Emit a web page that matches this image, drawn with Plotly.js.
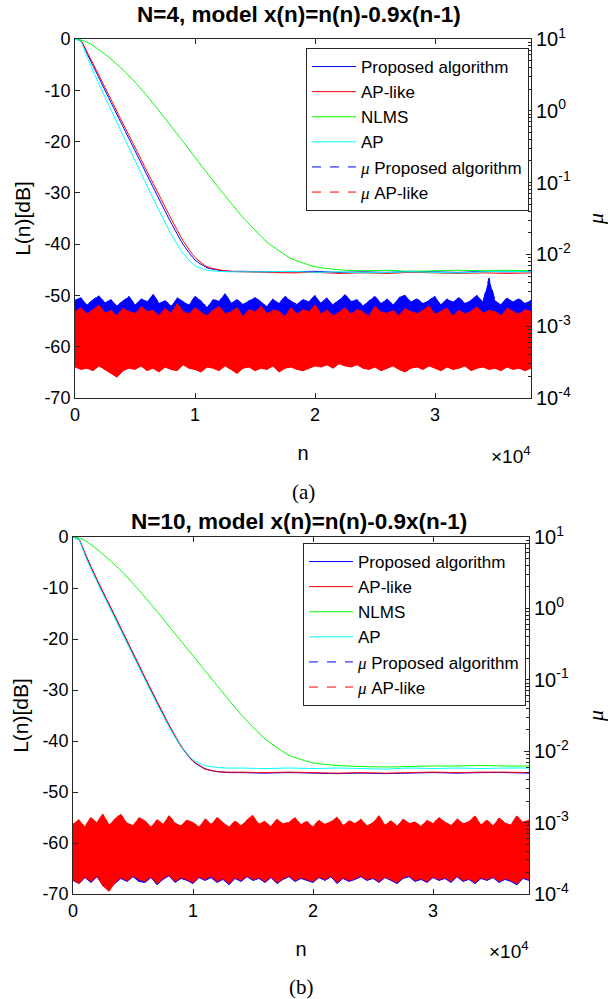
<!DOCTYPE html>
<html><head><meta charset="utf-8">
<script src="https://cdn.plot.ly/plotly-3.0.1.min.js"></script>
<style>html,body{margin:0;padding:0;background:#fff}</style>
</head><body><div id="chart" style="width:608px;height:999px"></div>
<script>
// ---------- data ----------
const titleA = 'N=4, model x(n)=n(n)-0.9x(n-1)';
const titleB = 'N=10, model x(n)=n(n)-0.9x(n-1)';
const seriesNames = ['Proposed algorithm', 'AP-like', 'NLMS', 'AP'];
const muNames = ['Proposed algorithm', 'AP-like'];
const xTickVals = [0, 10000, 20000, 30000];
const xTickText = ['0', '1', '2', '3'];
const yTickVals = [-70, -60, -50, -40, -30, -20, -10, 0];
const yTickText = ['-70', '-60', '-50', '-40', '-30', '-20', '-10', '0'];
const muTickVals = [1e-4, 1e-3, 1e-2, 1e-1, 1, 10];
const muTickText = ['10<sup>-4</sup>', '10<sup>-3</sup>', '10<sup>-2</sup>', '10<sup>-1</sup>', '10<sup>0</sup>', '10<sup>1</sup>'];

// sample index n for the learning curves
const Ln = [0,500,1000,1500,2000,3000,4000,5000,6000,7000,8000,9000,10000,11000,12000,13000,14000,16000,18000,20000,22000,24000,26000,28000,30000,32000,34000,36000,38000];

// (a) N=4 learning curves L(n) [dB]
const a_prop = [0,-0.4,-2.8,-5.2,-7.6,-12.4,-17.1,-21.8,-26.5,-31.2,-35.8,-40.0,-43.1,-44.6,-45.1,-45.3,-45.3,-45.4,-45.4,-45.3,-45.5,-45.4,-45.5,-45.3,-45.4,-45.5,-45.3,-45.4,-45.3];
const a_aplike = [0,-0.3,-2.5,-4.8,-7.1,-11.8,-16.5,-21.1,-25.8,-30.4,-35.0,-39.3,-42.6,-44.4,-45.0,-45.3,-45.4,-45.5,-45.6,-45.5,-45.7,-45.6,-45.7,-45.5,-45.6,-45.7,-45.6,-45.7,-45.6];
const a_nlms = [0,-0.2,-0.6,-1.3,-2.1,-3.9,-6.0,-8.4,-11.1,-14.0,-17.0,-20.0,-23.1,-26.1,-29.1,-32.0,-34.8,-39.6,-42.8,-44.4,-45.0,-45.2,-45.1,-45.3,-45.2,-45.1,-45.2,-45.1,-45.2];
const a_ap = [0,-0.5,-3.5,-6.2,-8.8,-13.8,-18.8,-23.7,-28.6,-33.4,-38.0,-41.8,-44.2,-45.1,-45.3,-45.4,-45.4,-45.4,-45.3,-45.5,-45.4,-45.6,-45.5,-45.4,-45.5,-45.6,-45.4,-45.3,-45.4];

// (b) N=10 learning curves L(n) [dB]
const b_prop = [0,-0.5,-3.3,-6.0,-8.5,-13.3,-18.1,-22.9,-27.7,-32.4,-37.0,-41.1,-44.0,-45.5,-46.0,-46.2,-46.2,-46.3,-46.2,-46.3,-46.4,-46.3,-46.4,-46.3,-46.2,-46.3,-46.2,-46.2,-46.3];
const b_aplike = [0,-0.5,-3.1,-5.8,-8.3,-13.1,-17.9,-22.7,-27.5,-32.2,-36.8,-40.9,-43.9,-45.4,-46.0,-46.1,-46.1,-46.2,-46.1,-46.2,-46.3,-46.2,-46.3,-46.2,-46.1,-46.2,-46.1,-46.1,-46.2];
const b_nlms = [0,-0.2,-0.7,-1.5,-2.4,-4.4,-6.6,-9.1,-11.8,-14.6,-17.5,-20.4,-23.3,-26.2,-29.1,-32.0,-34.8,-39.6,-42.8,-44.3,-44.8,-45.0,-45.1,-45.0,-44.9,-44.9,-44.8,-44.9,-44.9];
const b_ap = [0,-0.6,-3.6,-6.3,-8.8,-13.6,-18.4,-23.2,-28.0,-32.7,-37.2,-41.1,-43.7,-44.8,-45.2,-45.3,-45.3,-45.4,-45.3,-45.4,-45.3,-45.4,-45.5,-45.3,-45.4,-45.3,-45.4,-45.3,-45.3];

// sample index n for the step-size (mu) envelopes
const muN = [0,500,1000,1500,2000,2500,3000,3500,4000,4500,5000,5500,6000,6500,7000,7500,8000,8500,9000,9500,10000,10500,11000,11500,12000,12500,13000,13500,14000,14500,15000,15500,16000,16500,17000,17500,18000,18500,19000,19500,20000,20500,21000,21500,22000,22500,23000,23500,24000,24500,25000,25500,26000,26500,27000,27500,28000,28500,29000,29500,30000,30500,31000,31500,32000,32500,33000,33500,34000,34500,35000,35500,36000,36500,37000,37500,38000];

// (a) mu of proposed algorithm: upper / lower envelope of the noisy trace
const a_muP_hi = [0.0023,0.0025,0.0020,0.0023,0.0027,0.0021,0.0024,0.0019,0.0023,0.0026,
 0.0020,0.0024,0.0022,0.0028,0.0021,0.0023,0.0019,0.0025,0.0022,0.0020,
 0.0026,0.0023,0.0018,0.0024,0.0022,0.0029,0.0021,0.0024,0.0020,0.0023,
 0.0025,0.0022,0.0019,0.0024,0.0021,0.0026,0.0023,0.0020,0.0024,0.0022,
 0.0027,0.0021,0.0025,0.0020,0.0023,0.0028,0.0022,0.0024,0.0019,0.0023,
 0.0026,0.0021,0.0024,0.0020,0.0025,0.0027,0.0022,0.0024,0.0021,0.0023,
 0.0026,0.0020,0.0024,0.0022,0.0025,0.0021,0.0023,0.0027,0.0022,0.0047,
 0.0023,0.0020,0.0025,0.0022,0.0024,0.0021,0.0023];
const a_muP_lo = [0.00046,0.00043,0.00048,0.00044,0.00041,0.00047,0.00045,0.00042,0.00046,0.00044,
 0.00047,0.00043,0.00045,0.00041,0.00046,0.00044,0.00048,0.00042,0.00045,0.00047,
 0.00043,0.00046,0.00044,0.00041,0.00047,0.00045,0.00043,0.00046,0.00044,0.00042,
 0.00045,0.00047,0.00043,0.00046,0.00044,0.00041,0.00045,0.00048,0.00043,0.00046,
 0.00044,0.00042,0.00047,0.00045,0.00043,0.00046,0.00044,0.00041,0.00045,0.00047,
 0.00043,0.00046,0.00044,0.00042,0.00045,0.00047,0.00043,0.00046,0.00044,0.00041,
 0.00045,0.00047,0.00043,0.00046,0.00044,0.00042,0.00045,0.00047,0.00043,0.00046,
 0.00044,0.00042,0.00045,0.00047,0.00043,0.00046,0.00044];
// (a) mu of AP-like
const a_muA_hi = [0.0016,0.0018,0.0015,0.0017,0.0020,0.0015,0.0017,0.0014,0.0018,0.0016,
 0.0015,0.0019,0.0016,0.0017,0.0014,0.0018,0.0015,0.0021,0.0016,0.0015,
 0.0018,0.0016,0.0014,0.0017,0.0019,0.0015,0.0016,0.0018,0.0014,0.0017,
 0.0016,0.0019,0.0015,0.0017,0.0016,0.0014,0.0018,0.0015,0.0017,0.0016,
 0.0020,0.0015,0.0017,0.0014,0.0016,0.0018,0.0015,0.0017,0.0016,0.0014,
 0.0019,0.0016,0.0015,0.0017,0.0014,0.0018,0.0016,0.0015,0.0017,0.0019,
 0.0015,0.0016,0.0018,0.0014,0.0017,0.0015,0.0016,0.0019,0.0015,0.0017,
 0.0016,0.0014,0.0018,0.0016,0.0015,0.0017,0.0016];
const a_muA_lo = [0.00027,0.00025,0.00026,0.00024,0.00028,0.00025,0.00022,0.000195,0.00024,0.00026,
 0.00025,0.00028,0.00024,0.00026,0.00023,0.00027,0.00025,0.00024,0.00029,0.00026,
 0.00025,0.00023,0.00027,0.00026,0.00024,0.00028,0.00025,0.00022,0.00026,0.00027,
 0.00024,0.00026,0.00025,0.00028,0.00023,0.00026,0.00027,0.00025,0.00024,0.00026,
 0.00028,0.00027,0.00029,0.00026,0.00030,0.00028,0.00027,0.00029,0.00026,0.00025,
 0.00027,0.00024,0.00026,0.00028,0.00025,0.00023,0.00026,0.00027,0.00025,0.00028,
 0.00026,0.00024,0.00027,0.00025,0.00026,0.00028,0.00024,0.00026,0.00027,0.00025,
 0.00026,0.00024,0.00027,0.00025,0.00026,0.00024,0.00026];

// (b) mu of proposed algorithm
const b_muP_hi = [0.00085,0.00095,0.00080,0.00100,0.00088,0.00110,0.00082,0.00098,0.00105,0.00087,
 0.00080,0.00100,0.00092,0.00078,0.00095,0.00085,0.00102,0.00088,0.00080,0.00094,
 0.00090,0.00077,0.00098,0.00084,0.00100,0.00089,0.00079,0.00092,0.00082,0.00095,
 0.00104,0.00084,0.00092,0.00080,0.00096,0.00087,0.00089,0.00100,0.00083,0.00093,
 0.00078,0.00095,0.00085,0.00091,0.00101,0.00081,0.00094,0.00086,0.00097,0.00080,
 0.00090,0.00102,0.00084,0.00093,0.00080,0.00096,0.00087,0.00092,0.00079,0.00095,
 0.00086,0.00100,0.00089,0.00082,0.00097,0.00086,0.00092,0.00102,0.00085,0.00094,
 0.00082,0.00098,0.00088,0.00084,0.00103,0.00090,0.00094];
const b_muP_lo = [0.000155,0.000140,0.000170,0.000145,0.000175,0.000130,0.000120,0.000140,0.000165,0.000150,
 0.000175,0.000150,0.000145,0.000170,0.000135,0.000160,0.000180,0.000145,0.000165,0.000155,
 0.000140,0.000170,0.000155,0.000170,0.000145,0.000160,0.000135,0.000165,0.000150,0.000175,
 0.000155,0.000165,0.000145,0.000170,0.000140,0.000160,0.000175,0.000150,0.000165,0.000155,
 0.000145,0.000170,0.000155,0.000175,0.000140,0.000165,0.000150,0.000160,0.000175,0.000155,
 0.000165,0.000145,0.000170,0.000155,0.000140,0.000165,0.000175,0.000150,0.000160,0.000145,
 0.000170,0.000155,0.000165,0.000145,0.000175,0.000150,0.000160,0.000140,0.000165,0.000155,
 0.000170,0.000145,0.000160,0.000150,0.000135,0.000165,0.000155];
// (b) mu of AP-like
const b_muA_hi = [0.00095,0.00110,0.00088,0.00120,0.00100,0.00135,0.00092,0.00115,0.00130,0.00100,
 0.00090,0.00120,0.00105,0.00088,0.00110,0.00096,0.00125,0.00100,0.00090,0.00110,
 0.00102,0.00086,0.00115,0.00094,0.00120,0.00100,0.00088,0.00105,0.00092,0.00110,
 0.00128,0.00095,0.00105,0.00089,0.00112,0.00098,0.00100,0.00120,0.00093,0.00106,
 0.00087,0.00110,0.00095,0.00103,0.00122,0.00091,0.00108,0.00096,0.00114,0.00089,
 0.00102,0.00125,0.00094,0.00106,0.00090,0.00112,0.00098,0.00104,0.00088,0.00110,
 0.00096,0.00120,0.00101,0.00092,0.00113,0.00097,0.00105,0.00124,0.00095,0.00108,
 0.00092,0.00116,0.00100,0.00094,0.00126,0.00102,0.00108];
const b_muA_lo = [0.000160,0.000140,0.000175,0.000150,0.000180,0.000130,0.000109,0.000145,0.000170,0.000155,
 0.000180,0.000160,0.000150,0.000175,0.000140,0.000165,0.000185,0.000150,0.000170,0.000160,
 0.000145,0.000175,0.000160,0.000180,0.000150,0.000165,0.000140,0.000170,0.000155,0.000180,
 0.000160,0.000170,0.000150,0.000175,0.000145,0.000165,0.000180,0.000155,0.000170,0.000160,
 0.000150,0.000175,0.000160,0.000180,0.000145,0.000170,0.000155,0.000165,0.000180,0.000160,
 0.000170,0.000150,0.000175,0.000160,0.000145,0.000170,0.000180,0.000155,0.000165,0.000150,
 0.000175,0.000160,0.000170,0.000150,0.000180,0.000155,0.000165,0.000145,0.000170,0.000160,
 0.000175,0.000150,0.000165,0.000155,0.000140,0.000170,0.000160];

// ---------- styling ----------
const BLUE = '#0000ff', RED = '#ff0000', GREEN = '#00ff00', CYAN = '#00ffff';
const FONT = 'Liberation Sans, Arial, sans-serif';
const SERIF = 'Liberation Serif, Times New Roman, serif';
const MU = '<span style="font-family:Liberation Serif"><i>μ</i></span>';

function lCurve(y, name, color, xa, ya, leg) {
  return {x: Ln, y: y, name: name, type: 'scatter', mode: 'lines', xaxis: xa, yaxis: ya, legend: leg,
    line: {color: color, width: 1, shape: 'spline', smoothing: 0.5}};
}
function muBand(hi, lo, name, color, xa, ya, leg) {
  return [
    {x: muN, y: hi, name: MU + ' ' + name, type: 'scatter', mode: 'lines', xaxis: xa, yaxis: ya, legend: leg,
     line: {color: color, width: 1, dash: 'dash'}},
    {x: muN, y: lo, type: 'scatter', mode: 'lines', xaxis: xa, yaxis: ya, showlegend: false,
     line: {color: color, width: 1}, fill: 'tonexty', fillcolor: color}
  ];
}

const data = [
  lCurve(a_prop, seriesNames[0], BLUE, 'x', 'y', 'legend'),
  lCurve(a_aplike, seriesNames[1], RED, 'x', 'y', 'legend'),
  lCurve(a_nlms, seriesNames[2], GREEN, 'x', 'y', 'legend'),
  lCurve(a_ap, seriesNames[3], CYAN, 'x', 'y', 'legend'),
  ...muBand(a_muP_hi, a_muP_lo, muNames[0], BLUE, 'x', 'y2', 'legend'),
  ...muBand(a_muA_hi, a_muA_lo, muNames[1], RED, 'x', 'y2', 'legend'),
  lCurve(b_prop, seriesNames[0], BLUE, 'x2', 'y3', 'legend2'),
  lCurve(b_aplike, seriesNames[1], RED, 'x2', 'y3', 'legend2'),
  lCurve(b_nlms, seriesNames[2], GREEN, 'x2', 'y3', 'legend2'),
  lCurve(b_ap, seriesNames[3], CYAN, 'x2', 'y3', 'legend2'),
  ...muBand(b_muP_hi, b_muP_lo, muNames[0], BLUE, 'x2', 'y4', 'legend2'),
  ...muBand(b_muA_hi, b_muA_lo, muNames[1], RED, 'x2', 'y4', 'legend2')
];

const AX = '#262626';
function xAxis(domain, anchor) {
  return {domain: domain, anchor: anchor, range: [0, 38000], tickvals: xTickVals, ticktext: xTickText,
    ticks: 'inside', ticklen: 5, tickcolor: AX, showline: true, linecolor: AX, linewidth: 1, mirror: 'ticks',
    showgrid: false, zeroline: false, tickfont: {family: FONT, size: 18, color: '#000'},
    title: {text: 'n', font: {family: FONT, size: 20, color: '#000'}, standoff: 22}};
}
function yAxis(domain, anchor) {
  return {domain: domain, anchor: anchor, range: [-70, 0], tickvals: yTickVals, ticktext: yTickText,
    ticks: 'inside', ticklen: 5, tickcolor: AX, showline: true, linecolor: AX, linewidth: 1,
    showgrid: false, zeroline: false, tickfont: {family: FONT, size: 18, color: '#000'},
    title: {text: 'L(n)[dB]', font: {family: FONT, size: 21, color: '#000'}, standoff: 8}};
}
function muAxis(over, anchor) {
  return {overlaying: over, anchor: anchor, side: 'right', type: 'log', range: [-4, 1],
    tickvals: muTickVals, ticktext: muTickText, ticks: 'inside', ticklen: 5, tickcolor: AX,
    showline: true, linecolor: AX, linewidth: 1, showgrid: false, zeroline: false,
    minor: {ticks: 'inside', ticklen: 3, tickcolor: AX, dtick: 'D1', showgrid: false},
    tickfont: {family: FONT, size: 20, color: '#000'},
    title: {text: '<i>μ</i>', font: {family: SERIF, size: 22, color: '#000'}, standoff: 24}};
}
function legendBox(xr, yt) {
  return {x: xr, y: yt, xanchor: 'right', yanchor: 'top', bgcolor: '#fff', bordercolor: AX, borderwidth: 1,
    font: {family: FONT, size: 17, color: '#000'}, tracegroupgap: 0, itemwidth: 44, traceorder: 'normal'};
}

const layout = {
  width: 608, height: 999, margin: {l: 0, r: 0, t: 0, b: 0}, paper_bgcolor: '#fff', plot_bgcolor: '#fff',
  showlegend: true,
  xaxis: xAxis([75/608, 531/608], 'y'),
  yaxis: yAxis([1-398/999, 1-39/999], 'x'),
  yaxis2: muAxis('y', 'x'),
  xaxis2: xAxis([73/608, 529/608], 'y3'),
  yaxis3: yAxis([1-894/999, 1-537/999], 'x2'),
  yaxis4: muAxis('y3', 'x2'),
  legend: legendBox(529/608, 1-48/999),
  legend2: legendBox(526/608, 1-543/999),
  annotations: [
    {text: '<b>' + titleA + '</b>', xref: 'paper', yref: 'paper', x: 299/608, y: 1-14/999, showarrow: false,
     xanchor: 'center', yanchor: 'middle', font: {family: FONT, size: 22.5, color: '#000'}},
    {text: '<b>' + titleB + '</b>', xref: 'paper', yref: 'paper', x: 299/608, y: 1-521/999, showarrow: false,
     xanchor: 'center', yanchor: 'middle', font: {family: FONT, size: 22.5, color: '#000'}},
    {text: '×10<sup>4</sup>', xref: 'paper', yref: 'paper', x: 533/608, y: 1-455/999, showarrow: false,
     xanchor: 'right', yanchor: 'middle', font: {family: FONT, size: 19, color: '#000'}},
    {text: '×10<sup>4</sup>', xref: 'paper', yref: 'paper', x: 531/608, y: 1-950/999, showarrow: false,
     xanchor: 'right', yanchor: 'middle', font: {family: FONT, size: 19, color: '#000'}},
    {text: '(a)', xref: 'paper', yref: 'paper', x: 303/608, y: 1-492/999, showarrow: false,
     xanchor: 'center', yanchor: 'middle', font: {family: SERIF, size: 21, color: '#000'}},
    {text: '(b)', xref: 'paper', yref: 'paper', x: 301/608, y: 1-987/999, showarrow: false,
     xanchor: 'center', yanchor: 'middle', font: {family: SERIF, size: 21, color: '#000'}}
  ]
};

Plotly.newPlot('chart', data, layout, {staticPlot: true, displayModeBar: false});
</script></body></html>
